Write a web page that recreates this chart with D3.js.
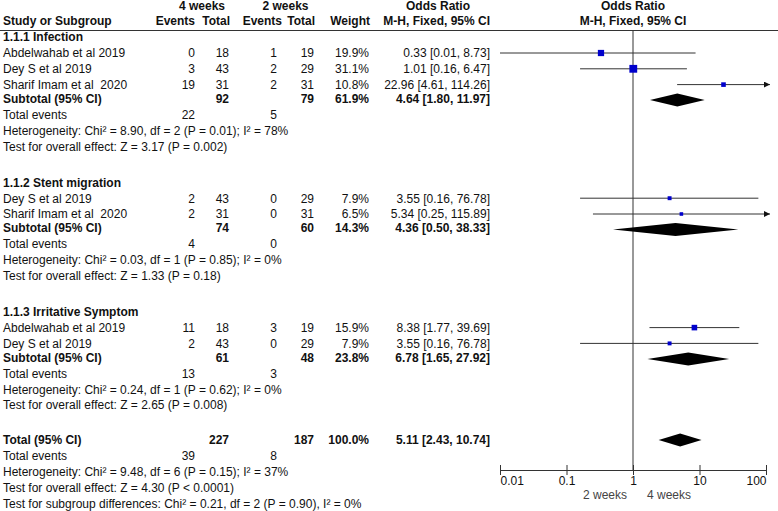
<!DOCTYPE html>
<html>
<head>
<meta charset="utf-8">
<script src="https://cdn.jsdelivr.net/npm/d3@7"></script>
<style>
  body { margin: 0; background: #fff; }
  svg text { font-family: "Liberation Sans", Arial, sans-serif; font-size: 12px; fill: #111; white-space: pre; }
  svg text.b { font-weight: bold; }
</style>
</head>
<body>
<svg id="chart" width="778" height="511"></svg>
<script>
// ---- data ----
const groupTitles = ["1.1.1 Infection", "1.1.2 Stent migration", "1.1.3 Irritative Symptom"];

const studyNames = ["Abdelwahab et al 2019", "Dey S et al 2019", "Sharif Imam et al  2020",
                    "Dey S et al 2019", "Sharif Imam et al  2020",
                    "Abdelwahab et al 2019", "Dey S et al 2019"];
const studyGroup = [0, 0, 0, 1, 1, 2, 2];
const events4 = [0, 3, 19, 2, 2, 11, 2];
const total4 = [18, 43, 31, 43, 31, 18, 43];
const events2 = [1, 2, 2, 0, 0, 3, 0];
const total2 = [19, 29, 31, 29, 31, 19, 29];
const weights = [19.9, 31.1, 10.8, 7.9, 6.5, 15.9, 7.9];
const oddsRatio = [0.33, 1.01, 22.96, 3.55, 5.34, 8.38, 3.55];
const ciLow = [0.01, 0.16, 4.61, 0.16, 0.25, 1.77, 0.16];
const ciHigh = [8.73, 6.47, 114.26, 76.78, 115.89, 39.69, 76.78];

const subTotal4 = [92, 74, 61];
const subTotal2 = [79, 60, 48];
const subEvents4 = [22, 4, 13];
const subEvents2 = [5, 0, 3];
const subWeight = [61.9, 14.3, 23.8];
const subOR = [4.64, 4.36, 6.78];
const subLow = [1.80, 0.50, 1.65];
const subHigh = [11.97, 38.33, 27.92];
const subHetero = ["Heterogeneity: Chi² = 8.90, df = 2 (P = 0.01); I² = 78%",
                   "Heterogeneity: Chi² = 0.03, df = 1 (P = 0.85); I² = 0%",
                   "Heterogeneity: Chi² = 0.24, df = 1 (P = 0.62); I² = 0%"];
const subEffect = ["Test for overall effect: Z = 3.17 (P = 0.002)",
                   "Test for overall effect: Z = 1.33 (P = 0.18)",
                   "Test for overall effect: Z = 2.65 (P = 0.008)"];

const overallTotals = [227, 187];
const overallEvents = [39, 8];
const overallWeight = 100.0;
const overallOR = [5.11, 2.43, 10.74];
const overallNotes = ["Heterogeneity: Chi² = 9.48, df = 6 (P = 0.15); I² = 37%",
                      "Test for overall effect: Z = 4.30 (P < 0.0001)",
                      "Test for subgroup differences: Chi² = 0.21, df = 2 (P = 0.90), I² = 0%"];

const tickValues = [0.01, 0.1, 1, 10, 100];
const favourLabels = ["2 weeks", "4 weeks"];

// ---- layout ----
const svg = d3.select("#chart");
const col = { study: 3, e4: 195, n4: 229, e2: 277, n2: 314, weight: 369, ci: 490 };
const axisY = 470;
const topLine = 30.5;

const x = d3.scaleLog().domain([0.01, 100]).range([500, 766]);
const fmtCI = (o, l, h) => `${o.toFixed(2)} [${l.toFixed(2)}, ${h.toFixed(2)}]`;

function txt(xp, yp, s, anchor, bold) {
   return svg.append("text")
      .attr("x", xp).attr("y", yp).attr("dy", "0.36em")
      .attr("text-anchor", anchor || "start")
      .classed("b", !!bold)
      .text(s);
}

// headers
txt((col.e4 + col.n4) / 2 - 10, 5.5, "4 weeks", "middle", true);
txt((col.e2 + col.n2) / 2 - 10, 5.5, "2 weeks", "middle", true);
txt(col.ci - 52, 5.5, "Odds Ratio", "middle", true);
txt(x(1), 5.5, "Odds Ratio", "middle", true);
txt(col.study, 21, "Study or Subgroup", "start", true);
txt(col.e4, 21, "Events", "end", true);
txt(col.n4 + 1, 21, "Total", "end", true);
txt(col.e2 + 5, 21, "Events", "end", true);
txt(col.n2 + 1, 21, "Total", "end", true);
txt(col.weight + 1, 21, "Weight", "end", true);
txt(col.ci, 21, "M-H, Fixed, 95% CI", "end", true);
txt(x(1), 21, "M-H, Fixed, 95% CI", "middle", true);

svg.append("line").attr("x1", 0).attr("x2", 778).attr("y1", topLine).attr("y2", topLine)
   .attr("stroke", "#333").attr("stroke-width", 1);

// arrowhead
svg.append("defs").append("marker")
   .attr("id", "arrow").attr("viewBox", "0 0 10 10")
   .attr("refX", 10).attr("refY", 5)
   .attr("markerWidth", 6).attr("markerHeight", 6)
   .attr("markerUnits", "userSpaceOnUse")
   .attr("orient", "auto")
   .append("path").attr("d", "M0,0L10,5L0,10Z").attr("fill", "#111");

// null line
svg.append("line").attr("x1", x(1)).attr("x2", x(1)).attr("y1", topLine).attr("y2", axisY)
   .attr("stroke", "#333").attr("stroke-width", 1);

function diamond(yp, o, l, h) {
   const p = d3.path();
   p.moveTo(x(l), yp);
   p.lineTo(x(o), yp - 6.5);
   p.lineTo(x(h), yp);
   p.lineTo(x(o), yp + 6.5);
   p.closePath();
   svg.append("path").attr("d", p.toString()).attr("fill", "#000");
}

const step = 15.8;
let y = 37;
groupTitles.forEach((title, g) => {
   txt(col.study, y, title, "start", true);
   y += 16;
   studyNames.forEach((name, i) => {
      if (studyGroup[i] !== g) return;
      txt(col.study, y, name);
      txt(col.e4, y, String(events4[i]), "end");
      txt(col.n4, y, String(total4[i]), "end");
      txt(col.e2, y, String(events2[i]), "end");
      txt(col.n2, y, String(total2[i]), "end");
      txt(col.weight, y, weights[i].toFixed(1) + "%", "end");
      txt(col.ci, y, fmtCI(oddsRatio[i], ciLow[i], ciHigh[i]), "end");

      const lo = Math.max(ciLow[i], x.domain()[0]);
      const hi = Math.min(ciHigh[i], x.domain()[1]);
      const ln = svg.append("line")
         .attr("x1", x(lo)).attr("x2", x(hi) + (ciHigh[i] > 100 ? 4 : 0))
         .attr("y1", y).attr("y2", y)
         .attr("stroke", "#333").attr("stroke-width", 1);
      if (ciHigh[i] > x.domain()[1]) ln.attr("marker-end", "url(#arrow)");

      const s = 1.4 * Math.sqrt(weights[i]);
      svg.append("rect")
         .attr("x", x(oddsRatio[i]) - s / 2).attr("y", y - s / 2)
         .attr("width", s).attr("height", s)
         .attr("fill", "#0000cc");
      y += step;
   });
   y += 14 - step;
   txt(col.study, y, "Subtotal (95% CI)", "start", true);
   txt(col.n4, y, String(subTotal4[g]), "end", true);
   txt(col.n2, y, String(subTotal2[g]), "end", true);
   txt(col.weight, y, subWeight[g].toFixed(1) + "%", "end", true);
   txt(col.ci, y, fmtCI(subOR[g], subLow[g], subHigh[g]), "end", true);
   diamond(y + 1.5, subOR[g], subLow[g], subHigh[g]);
   y += 16;
   txt(col.study, y, "Total events");
   txt(col.e4, y, String(subEvents4[g]), "end");
   txt(col.e2, y, String(subEvents2[g]), "end");
   y += step;
   txt(col.study, y, subHetero[g]);
   y += step;
   txt(col.study, y, subEffect[g]);
   y += 36;
});

y -= 1;
txt(col.study, y, "Total (95% CI)", "start", true);
txt(col.n4, y, String(overallTotals[0]), "end", true);
txt(col.n2, y, String(overallTotals[1]), "end", true);
txt(col.weight, y, overallWeight.toFixed(1) + "%", "end", true);
txt(col.ci, y, fmtCI(overallOR[0], overallOR[1], overallOR[2]), "end", true);
diamond(y, overallOR[0], overallOR[1], overallOR[2]);
y += 16;
txt(col.study, y, "Total events");
txt(col.e4, y, String(overallEvents[0]), "end");
txt(col.e2, y, String(overallEvents[1]), "end");
overallNotes.forEach(n => { y += step; txt(col.study, y, n); });

// axis
const axis = d3.axisBottom(x).tickValues(tickValues).tickFormat(d => String(d))
   .tickSizeOuter(0).tickSizeInner(5);
const ag = svg.append("g").attr("transform", `translate(0,${axisY})`).call(axis);
ag.select(".domain").attr("stroke", "#333");
ag.selectAll(".tick line").attr("y1", -5).attr("y2", 5).attr("stroke", "#333");
ag.selectAll(".tick text")
   .attr("y", 15).attr("dy", 0)
   .attr("text-anchor", (d, i) => i === 0 ? "start" : (i === tickValues.length - 1 ? "end" : "middle"));

svg.append("text").attr("x", x(1) - 6).attr("y", axisY + 29)
   .attr("text-anchor", "end").style("fill", "#444").text(favourLabels[0]);
svg.append("text").attr("x", x(1) + 14).attr("y", axisY + 29)
   .attr("text-anchor", "start").style("fill", "#444").text(favourLabels[1]);
</script>
</body>
</html>
